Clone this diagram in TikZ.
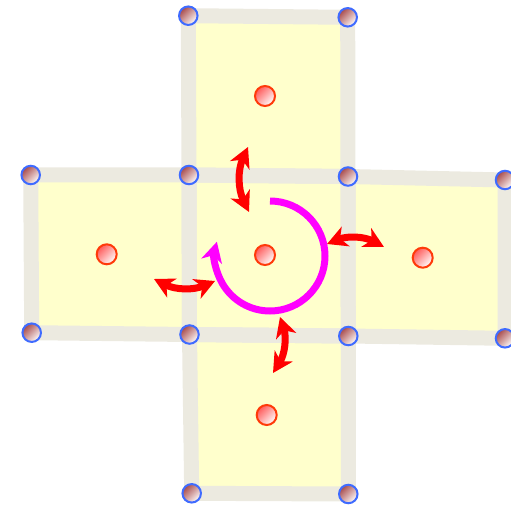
\documentclass[tikz,border=0pt]{standalone}
\usetikzlibrary{arrows.meta}
\definecolor{band}{HTML}{ECEAE0}
\definecolor{face}{HTML}{FFFFCC}
\definecolor{ring}{HTML}{3F6BFF}
\definecolor{knob}{HTML}{A84A4A}
\definecolor{spot}{HTML}{FF3A0A}
\definecolor{spin}{HTML}{FF00FF}
\definecolor{flip}{HTML}{FF0000}
\tikzset{
  >={Stealth[length=20pt,width=21pt,inset=6pt]},
  facefill/.style={fill=face,draw=none},
  edgeband/.style={draw=band,line width=15pt,miter limit=10},
  vtx/.style={circle,draw=ring,line width=2pt,minimum size=18.5pt,inner sep=0pt,top color=knob,bottom color=white,shading angle=45},
  ctr/.style={circle,draw=spot,line width=2pt,minimum size=20pt,inner sep=0pt,top color=red!65,bottom color=white,shading angle=45},
  swap/.style={<->,draw=flip,line width=7pt},
  turn/.style={->,draw=spin,line width=7pt},
}
\begin{document}
\begin{tikzpicture}[x=1pt,y=1pt]
\useasboundingbox (0,0) rectangle (511,504);
% corners of the net
\coordinate (v1) at (188.3,488.3);
\coordinate (v2) at (347.7,486.7);
\coordinate (v3) at (189,329);
\coordinate (v4) at (348,327.5);
\coordinate (v5) at (30.7,329);
\coordinate (v6) at (31.7,171.3);
\coordinate (v7) at (189.5,169.5);
\coordinate (v8) at (348.3,168);
\coordinate (v9) at (505,324);
\coordinate (v10) at (505,165.7);
\coordinate (v11) at (191.7,10.7);
\coordinate (v12) at (348.3,10);
% faces
\foreach \a/\b/\c/\d in {v1/v2/v4/v3,v5/v3/v7/v6,v3/v4/v8/v7,v4/v9/v10/v8,v7/v8/v12/v11}
  \fill[facefill] (\a) -- (\b) -- (\c) -- (\d) -- cycle;
\foreach \a/\b/\c/\d in {v1/v2/v4/v3,v5/v3/v7/v6,v3/v4/v8/v7,v4/v9/v10/v8,v7/v8/v12/v11}
  \draw[edgeband] (\a) -- (\b) -- (\c) -- (\d) -- cycle;
% vertices
\foreach \v in {1,...,12}
  \node[vtx] (p\v) at (v\v) {};
% face centres
\node[ctr] (ctop) at (265,408) {};
\node[ctr] (cleft) at (106.7,249.7) {};
\node[ctr] (cmid) at (265,249) {};
\node[ctr] (cright) at (422.7,246.3) {};
\node[ctr] (cbot) at (266.7,89) {};
% flip arrows across the edges
\coordinate (to1) at (248,357); \coordinate (ti1) at (249,292);
\coordinate (to2) at (384,257); \coordinate (ti2) at (327,260);
\coordinate (to3) at (273,131); \coordinate (ti3) at (280,187);
\coordinate (to4) at (154,225); \coordinate (ti4) at (215,223);
\foreach \i in {1,...,4}
  \draw[swap] (to\i) to[bend right=25] (ti\i);
% rotation
\coordinate (rc) at (270,248);
\draw[turn] ([shift={(90:55)}]rc) arc[start angle=90,end angle=-195,radius=55];
\end{tikzpicture}
\end{document}
